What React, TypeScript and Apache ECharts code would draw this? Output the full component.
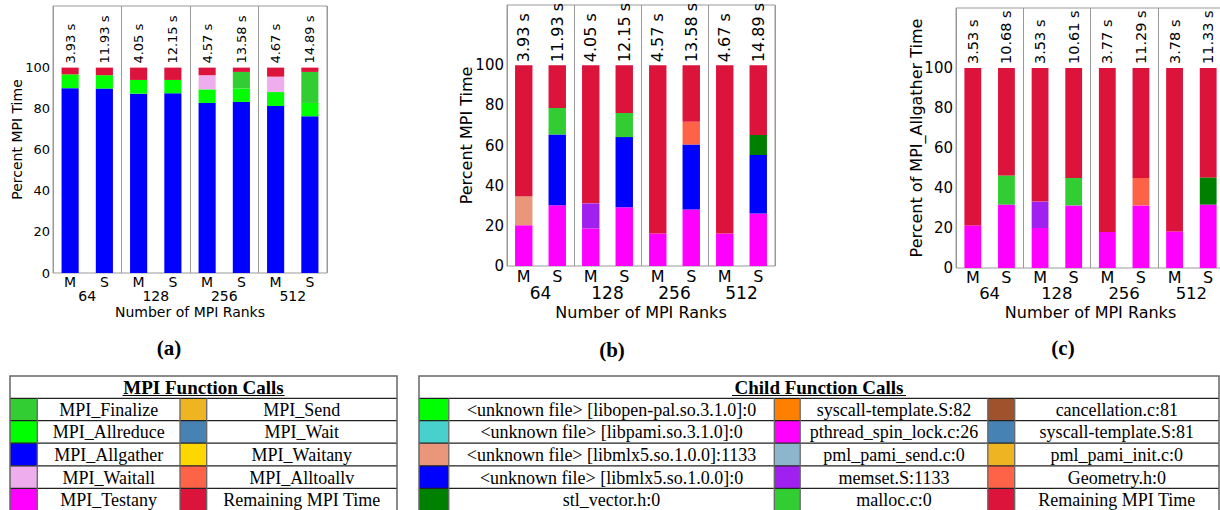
import React, { useEffect, useRef } from "react";
import * as echarts from "echarts";

// ---------- data ----------
const barLabels = ["M", "S", "M", "S", "M", "S", "M", "S"];
const rankLabels = ["64", "128", "256", "512"];

// (a) Percent MPI time by MPI function
const timesA = ["3.93 s", "11.93 s", "4.05 s", "12.15 s", "4.57 s", "13.58 s", "4.67 s", "14.89 s"];
const aAllgather = [90.0, 89.8, 87.3, 87.5, 82.8, 83.3, 81.3, 76.3];
const aAllreduce = [6.7, 6.5, 6.7, 6.5, 6.6, 6.5, 6.8, 6.5];
const aWaitall = [0, 0, 0, 0, 6.9, 0, 7.5, 0];
const aFinalize = [0, 0, 0, 0, 0, 8.1, 0, 15.1];
const aRemaining = [3.3, 3.7, 6.0, 6.0, 3.7, 2.1, 4.4, 2.1];

// (b) Percent MPI time by child function
const timesB = ["3.93 s", "11.93 s", "4.05 s", "12.15 s", "4.57 s", "13.58 s", "4.67 s", "14.89 s"];
const bSpinLock = [20.3, 30.3, 18.7, 29.3, 16.2, 28.2, 16.2, 26.2];
const bMlx1133 = [14.5, 0, 0, 0, 0, 0, 0, 0];
const bMemset = [0, 0, 12.5, 0, 0, 0, 0, 0];
const bMlx0 = [0, 35.2, 0, 34.9, 0, 32.3, 0, 29.1];
const bMalloc = [0, 13.2, 0, 12.0, 0, 0, 0, 0];
const bGeometry = [0, 0, 0, 0, 0, 11.3, 0, 0];
const bStlVector = [0, 0, 0, 0, 0, 0, 0, 10.0];
const bRemaining = [65.2, 21.3, 68.8, 23.8, 83.8, 28.2, 83.8, 34.7];

// (c) Percent of MPI_Allgather time by child function
const timesC = ["3.53 s", "10.68 s", "3.53 s", "10.61 s", "3.77 s", "11.29 s", "3.78 s", "11.33 s"];
const cSpinLock = [21.3, 31.7, 20.0, 31.3, 18.0, 31.3, 18.3, 31.7];
const cMemset = [0, 0, 13.2, 0, 0, 0, 0, 0];
const cMalloc = [0, 14.6, 0, 13.7, 0, 0, 0, 0];
const cGeometry = [0, 0, 0, 0, 0, 13.7, 0, 0];
const cStlVector = [0, 0, 0, 0, 0, 0, 0, 13.6];
const cRemaining = [78.7, 53.7, 66.8, 55.0, 82.0, 55.0, 81.7, 54.7];

const yTicks = [0, 20, 40, 60, 80, 100];

// legends
const mpiLegendNames = [
  "MPI_Finalize", "MPI_Allreduce", "MPI_Allgather", "MPI_Waitall", "MPI_Testany",
  "MPI_Send", "MPI_Wait", "MPI_Waitany", "MPI_Alltoallv", "Remaining MPI Time",
];
const mpiLegendColors = [
  "#32CD32", "#00FF00", "#0000FF", "#EEAEEE", "#FF00FF",
  "#EEB422", "#4682B4", "#FFD700", "#FF6347", "#DC143C",
];
const childLegendNames = [
  "<unknown file> [libopen-pal.so.3.1.0]:0", "<unknown file> [libpami.so.3.1.0]:0",
  "<unknown file> [libmlx5.so.1.0.0]:1133", "<unknown file> [libmlx5.so.1.0.0]:0", "stl_vector.h:0",
  "syscall-template.S:82", "pthread_spin_lock.c:26", "pml_pami_send.c:0", "memset.S:1133", "malloc.c:0",
  "cancellation.c:81", "syscall-template.S:81", "pml_pami_init.c:0", "Geometry.h:0", "Remaining MPI Time",
];
const childLegendColors = [
  "#00FF00", "#48D1CC", "#E9967A", "#0000FF", "#008000",
  "#FF8000", "#FF00FF", "#8DB6CD", "#A020F0", "#32CD32",
  "#A0522D", "#4682B4", "#EEB422", "#FF6347", "#DC143C",
];

// ---------- helpers ----------
const SANS = "DejaVu Sans";
const SERIF = "Liberation Serif";

type ChartCfg = {
  grid: any;
  tickFs: number;
  catFs: number;
  rankFs: number;
  timeFs: number;
  xNameFs: number;
  yNameFs: number;
  yName: string;
  yNameGap: number;
  xMargin: number;
  rankOffset: number;
  rankMargin: number;
  xNameGap: number;
  timeDist: number;
  barWidth: string;
};

function axesFor(i: number, c: ChartCfg) {
  const x0 = {
    type: "category",
    gridIndex: i,
    data: barLabels,
    axisLine: { show: false },
    axisTick: { show: false },
    axisLabel: { fontSize: c.catFs, color: "#000", margin: c.xMargin, fontFamily: SANS, interval: 0 },
  };
  const x1 = {
    type: "category",
    gridIndex: i,
    data: rankLabels,
    position: "bottom",
    offset: c.rankOffset,
    axisLine: { show: false },
    axisTick: { show: false, interval: 0 },
    axisLabel: { fontSize: c.rankFs, color: "#000", margin: c.rankMargin, fontFamily: SANS, interval: 0 },
    splitLine: { show: true, interval: 0, lineStyle: { color: "#999", width: 1 } },
    name: "Number of MPI Ranks",
    nameLocation: "middle",
    nameGap: c.xNameGap,
    nameMoveOverlap: false,
    nameTextStyle: { fontSize: c.xNameFs, color: "#000", fontFamily: SANS },
  };
  const y = {
    type: "value",
    gridIndex: i,
    min: 0,
    max: 130,
    interval: 10,
    axisLine: { show: false },
    axisTick: { show: false },
    splitLine: { show: false },
    axisLabel: {
      fontSize: c.tickFs,
      color: "#000",
      margin: 3,
      fontFamily: SANS,
      customValues: yTicks,
    },
    name: c.yName,
    nameLocation: "middle",
    nameGap: c.yNameGap,
    nameMoveOverlap: false,
    nameTextStyle: { fontSize: c.yNameFs, color: "#000", fontFamily: SANS },
  };
  return { x0, x1, y };
}

function seriesFor(
  i: number,
  c: ChartCfg,
  parts: { name: string; color: string; data: number[] }[],
  times: string[]
) {
  return parts.map((p, k) => {
    const isTop = k === parts.length - 1;
    return {
      type: "bar",
      name: p.name,
      xAxisIndex: 2 * i,
      yAxisIndex: i,
      stack: "s" + i,
      barWidth: c.barWidth,
      data: p.data,
      itemStyle: { color: p.color },
      label: isTop
        ? {
            show: true,
            position: "top",
            rotate: 90,
            align: "left",
            verticalAlign: "middle",
            distance: c.timeDist,
            fontSize: c.timeFs,
            fontFamily: SANS,
            color: "#000",
            formatter: (q: any) => times[q.dataIndex],
          }
        : { show: false },
    };
  });
}

const ROW_Y = [376, 398.3, 420.7, 443.2, 465.8, 488.3, 510.8];

function tableGraphics(
  colEdges: number[],
  title: string,
  titleWidth: number,
  names: string[],
  colors: string[]
) {
  const els: any[] = [];
  const x0 = colEdges[0];
  const x1 = colEdges[colEdges.length - 1];
  const nCols = (colEdges.length - 1) / 2;
  const perCol = 5;
  els.push({ type: "rect", shape: { x: x0, y: ROW_Y[0], width: x1 - x0, height: 150 }, style: { fill: "#fff" }, z: 1 });
  for (let c = 0; c < nCols; c++) {
    for (let r = 0; r < perCol; r++) {
      const idx = c * perCol + r;
      const ya = ROW_Y[r + 1];
      const yb = ROW_Y[r + 2];
      els.push({
        type: "rect",
        shape: { x: colEdges[2 * c], y: ya, width: colEdges[2 * c + 1] - colEdges[2 * c], height: yb - ya },
        style: { fill: colors[idx] },
        z: 2,
      });
      els.push({
        type: "text",
        x: (colEdges[2 * c + 1] + colEdges[2 * c + 2]) / 2,
        y: (ya + yb) / 2 + 0.5,
        style: {
          text: names[idx],
          fontFamily: SERIF,
          fontSize: 18,
          fill: "#000",
          align: "center",
          verticalAlign: "middle",
        },
        z: 3,
      });
    }
  }
  for (let r = 1; r <= 5; r++) {
    els.push({
      type: "line",
      shape: { x1: x0, y1: ROW_Y[r], x2: x1, y2: ROW_Y[r] },
      style: { stroke: "#222", lineWidth: 1.3 },
      z: 4,
    });
  }
  for (let k = 1; k < colEdges.length - 1; k++) {
    els.push({
      type: "line",
      shape: { x1: colEdges[k], y1: ROW_Y[1], x2: colEdges[k], y2: 520 },
      style: { stroke: "#666", lineWidth: 1.3 },
      z: 4,
    });
  }
  els.push({
    type: "polyline",
    shape: { points: [[x0, 520], [x0, ROW_Y[0]], [x1, ROW_Y[0]], [x1, 520]] },
    style: { stroke: "#666", lineWidth: 1.5, fill: null },
    z: 4,
  });
  const cx = (x0 + x1) / 2;
  els.push({
    type: "text",
    x: cx,
    y: (ROW_Y[0] + ROW_Y[1]) / 2 + 0.5,
    style: {
      text: title,
      fontFamily: SERIF,
      fontSize: 19,
      fontWeight: "bold",
      fill: "#000",
      align: "center",
      verticalAlign: "middle",
    },
    z: 3,
  });
  els.push({
    type: "line",
    shape: { x1: cx - titleWidth / 2, y1: 395.5, x2: cx + titleWidth / 2, y2: 395.5 },
    style: { stroke: "#000", lineWidth: 1.2 },
    z: 4,
  });
  return els;
}

function caption(text: string, x: number, y: number) {
  return {
    type: "text",
    x,
    y,
    style: {
      text,
      fontFamily: SERIF,
      fontSize: 21,
      fontWeight: "bold",
      fill: "#000",
      align: "center",
      verticalAlign: "middle",
    },
  };
}

export default function App() {
  const ref = useRef<HTMLDivElement>(null);

  useEffect(() => {
    if (!ref.current) return;
    const chart = echarts.init(ref.current, null, { renderer: "svg" });

    const cfgs: ChartCfg[] = [
      {
        grid: { left: 53, right: 893, top: 6, bottom: 237 },
        tickFs: 13, catFs: 14, rankFs: 14, timeFs: 13, xNameFs: 14, yNameFs: 14,
        yName: "Percent MPI Time", yNameGap: 29,
        xMargin: 2, rankOffset: 14, rankMargin: 2, xNameGap: 18, timeDist: 4, barWidth: "50%",
      },
      {
        grid: { left: 507, right: 445, top: 5, bottom: 244 },
        tickFs: 15, catFs: 16, rankFs: 17, timeFs: 16, xNameFs: 16, yNameFs: 16,
        yName: "Percent MPI Time", yNameGap: 33,
        xMargin: 2.3, rankOffset: 16, rankMargin: 2.3, xNameGap: 22.5, timeDist: 3, barWidth: "52%",
      },
      {
        grid: { left: 956, right: -5, top: 8, bottom: 242 },
        tickFs: 15, catFs: 16, rankFs: 16.5, timeFs: 14.5, xNameFs: 16, yNameFs: 16,
        yName: "Percent of MPI_Allgather Time", yNameGap: 32,
        xMargin: 1.5, rankOffset: 15, rankMargin: 1.7, xNameGap: 21.2, timeDist: 4, barWidth: "50%",
      },
    ];

    const xAxes: any[] = [];
    const yAxes: any[] = [];
    cfgs.forEach((c, i) => {
      const a = axesFor(i, c);
      xAxes.push(a.x0, a.x1);
      yAxes.push(a.y);
    });

    const series = [
      ...seriesFor(0, cfgs[0], [
        { name: "MPI_Allgather", color: "#0000FF", data: aAllgather },
        { name: "MPI_Allreduce", color: "#00FF00", data: aAllreduce },
        { name: "MPI_Waitall", color: "#EEAEEE", data: aWaitall },
        { name: "MPI_Finalize", color: "#32CD32", data: aFinalize },
        { name: "Remaining MPI Time", color: "#DC143C", data: aRemaining },
      ], timesA),
      ...seriesFor(1, cfgs[1], [
        { name: "pthread_spin_lock.c:26", color: "#FF00FF", data: bSpinLock },
        { name: "<unknown file> [libmlx5.so.1.0.0]:1133", color: "#E9967A", data: bMlx1133 },
        { name: "memset.S:1133", color: "#A020F0", data: bMemset },
        { name: "<unknown file> [libmlx5.so.1.0.0]:0", color: "#0000FF", data: bMlx0 },
        { name: "malloc.c:0", color: "#32CD32", data: bMalloc },
        { name: "Geometry.h:0", color: "#FF6347", data: bGeometry },
        { name: "stl_vector.h:0", color: "#008000", data: bStlVector },
        { name: "Remaining MPI Time", color: "#DC143C", data: bRemaining },
      ], timesB),
      ...seriesFor(2, cfgs[2], [
        { name: "pthread_spin_lock.c:26", color: "#FF00FF", data: cSpinLock },
        { name: "memset.S:1133", color: "#A020F0", data: cMemset },
        { name: "malloc.c:0", color: "#32CD32", data: cMalloc },
        { name: "Geometry.h:0", color: "#FF6347", data: cGeometry },
        { name: "stl_vector.h:0", color: "#008000", data: cStlVector },
        { name: "Remaining MPI Time", color: "#DC143C", data: cRemaining },
      ], timesC),
    ];

    const graphic = [
      caption("(a)", 169, 348),
      caption("(b)", 612, 350),
      caption("(c)", 1063, 348),
      ...tableGraphics([10, 37.3, 180, 206.7, 397], "MPI Function Calls", 162, mpiLegendNames, mpiLegendColors),
      ...tableGraphics(
        [419, 448.8, 774.3, 800.2, 987.8, 1014.7, 1219],
        "Child Function Calls",
        174,
        childLegendNames,
        childLegendColors
      ),
    ];

    chart.setOption({
      animation: false,
      backgroundColor: "#fff",
      textStyle: { fontFamily: SANS },
      grid: cfgs.map((c) => ({
        ...c.grid,
        show: true,
        borderColor: "#999",
        borderWidth: 1,
        backgroundColor: "transparent",
        containLabel: false,
        outerBoundsMode: "none",
      })),
      xAxis: xAxes,
      yAxis: yAxes,
      series,
      graphic,
    });

    return () => chart.dispose();
  }, []);

  return (
    <div
      ref={ref}
      style={{ position: "absolute", left: 0, top: 0, width: 1220, height: 510, background: "#fff" }}
    />
  );
}
